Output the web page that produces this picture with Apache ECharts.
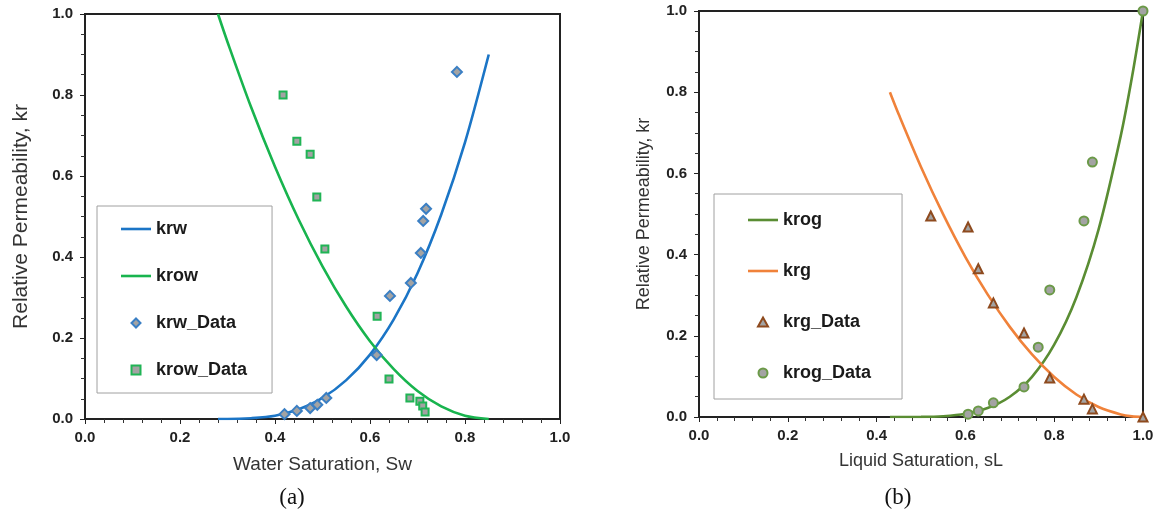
<!DOCTYPE html>
<html>
<head>
<meta charset="utf-8">
<script src="https://cdn.jsdelivr.net/npm/echarts@6/dist/echarts.min.js"></script>
<style>html,body{margin:0;padding:0;background:#fff}#c{width:1159px;height:514px}</style>
</head>
<body>
<div id="c"></div>
<script>
// ---- (a) water / oil ----
const swCurve   = [0.28, 0.30, 0.35, 0.40, 0.45, 0.50, 0.55, 0.60, 0.65, 0.70, 0.75, 0.80, 0.85];
const krwCurve  = [0.000, 0.000, 0.002, 0.008, 0.024, 0.052, 0.096, 0.159, 0.246, 0.360, 0.505, 0.683, 0.900];
const krowCurve = [1.000, 0.931, 0.769, 0.623, 0.492, 0.377, 0.277, 0.192, 0.123, 0.069, 0.031, 0.008, 0.000];
const krwDataSw = [0.420, 0.446, 0.474, 0.489, 0.508, 0.614, 0.642, 0.686, 0.707, 0.712, 0.718, 0.783];
const krwDataKr = [0.012, 0.020, 0.027, 0.035, 0.052, 0.158, 0.304, 0.336, 0.410, 0.489, 0.519, 0.857];
const krowDataSw = [0.417, 0.446, 0.474, 0.488, 0.505, 0.615, 0.640, 0.684, 0.705, 0.711, 0.716];
const krowDataKr = [0.800, 0.686, 0.654, 0.548, 0.420, 0.254, 0.099, 0.052, 0.044, 0.032, 0.017];
// ---- (b) gas / liquid ----
const sLCurve   = [0.43, 0.45, 0.50, 0.55, 0.60, 0.65, 0.70, 0.75, 0.80, 0.85, 0.90, 0.95, 0.975, 1.00];
const krogCurve = [0.000, 0.000, 0.0002, 0.002, 0.008, 0.022, 0.050, 0.099, 0.178, 0.295, 0.462, 0.693, 0.836, 1.000];
const krgCurve  = [0.800, 0.745, 0.616, 0.499, 0.394, 0.302, 0.222, 0.154, 0.0985, 0.0554, 0.0246, 0.0062, 0.0015, 0.000];
const krgDataSL = [0.522, 0.606, 0.629, 0.663, 0.732, 0.790, 0.867, 0.886, 1.000];
const krgDataKr = [0.495, 0.468, 0.365, 0.281, 0.207, 0.096, 0.044, 0.020, 0.000];
const krogDataSL = [0.606, 0.629, 0.663, 0.732, 0.764, 0.790, 0.867, 0.886, 1.000];
const krogDataKr = [0.007, 0.015, 0.035, 0.074, 0.172, 0.313, 0.483, 0.628, 1.000];
const tickLabels = ['0.0', '0.2', '0.4', '0.6', '0.8', '1.0'];
const names = { a: ['krw', 'krow', 'krw_Data', 'krow_Data'], b: ['krog', 'krg', 'krg_Data', 'krog_Data'] };
const xTitles = ['Water Saturation, Sw', 'Liquid Saturation, sL'];
const yTitle = 'Relative Permeability, kr';
const panelLabels = ['(a)', '(b)'];

const zip = (xs, ys) => xs.map((x, i) => [x, ys[i]]);
const FONT = 'Liberation Sans, Arial, sans-serif';
const fmt = v => tickLabels[Math.round(v * 5)] || '';

const ICON_LINE = 'path://M0,0H30V2.6H0Z';
const ICON_DIAMOND = 'path://M5,0L10,5L5,10L0,5Z';
const ICON_SQUARE = 'path://M0,0H10V10H0Z';
const ICON_TRI = 'path://M5,0L10,9L0,9Z';
const ICON_CIRCLE = 'circle';

function mainX(grid, name, gap, size) {
  return {
    type: 'value', gridIndex: grid, min: 0, max: 1, interval: 0.2,
    name: name, nameLocation: 'middle', nameGap: gap,
    nameTextStyle: { fontFamily: FONT, fontSize: size, color: '#333' },
    axisLine: { show: true, onZero: false, lineStyle: { color: '#222', width: 2 } },
    axisTick: { show: true, inside: false, length: 5, lineStyle: { color: '#222', width: 1 } },
    axisLabel: { formatter: fmt, fontFamily: FONT, fontWeight: 'bold', fontSize: 15, color: '#222', margin: 11 },
    splitLine: { show: false }
  };
}
function minorX(grid) {
  return {
    type: 'value', gridIndex: grid, min: 0, max: 1, interval: 0.2,
    axisLine: { show: false }, axisLabel: { show: false }, splitLine: { show: false },
    axisTick: { show: false, inside: true },
    minorTick: { show: true, splitNumber: 5, length: 4, lineStyle: { color: '#333', width: 1 } }
  };
}
function mainY(grid, gap, size) {
  return {
    type: 'value', gridIndex: grid, min: 0, max: 1, interval: 0.2,
    name: yTitle, nameLocation: 'middle', nameGap: gap, nameRotate: 90,
    nameTextStyle: { fontFamily: FONT, fontSize: size, color: '#333' },
    axisLine: { show: true, onZero: false, lineStyle: { color: '#222', width: 2 } },
    axisTick: { show: true, inside: false, length: 5, lineStyle: { color: '#222', width: 1 } },
    axisLabel: { formatter: fmt, fontFamily: FONT, fontWeight: 'bold', fontSize: 15, color: '#222', margin: 12 },
    splitLine: { show: false }
  };
}
function minorY(grid) {
  return {
    type: 'value', gridIndex: grid, min: 0, max: 1, interval: 0.2,
    axisLine: { show: false }, axisLabel: { show: false }, splitLine: { show: false },
    axisTick: { show: false, inside: true },
    minorTick: { show: true, splitNumber: 4, length: 4, lineStyle: { color: '#333', width: 1 } }
  };
}
function lineSeries(name, xi, data, color) {
  return { name, type: 'line', xAxisIndex: xi, yAxisIndex: xi, data, smooth: 0.3,
    symbol: 'none', showSymbol: false, lineStyle: { color, width: 2.6 }, itemStyle: { color }, z: 2 };
}
function scatterSeries(name, xi, data, symbol, size, border) {
  return { name, type: 'scatter', xAxisIndex: xi, yAxisIndex: xi, data, symbol, symbolSize: size,
    symbolKeepAspect: true, clip: false,
    itemStyle: { color: '#a3a3a3', borderColor: border, borderWidth: 2, opacity: 1 }, z: 3 };
}
function legend(items, icons, left, top, gap, pad) {
  return {
    data: items.map((n, i) => ({ name: n, icon: icons[i] })),
    orient: 'vertical', left, top, itemGap: gap,
    itemWidth: 30, itemHeight: 9, symbolKeepAspect: true, selectedMode: false, padding: pad,
    borderColor: '#a0a0a0', borderWidth: 1, backgroundColor: '#fff',
    textStyle: { fontFamily: FONT, fontWeight: 'bold', fontSize: 18, color: '#1a1a1a' }
  };
}

const chart = echarts.init(document.getElementById('c'), null, { renderer: 'canvas' });
chart.setOption({
  animation: false,
  backgroundColor: '#fff',
  title: [
    { text: panelLabels[0], left: 287, top: 481, textAlign: 'center', textStyle: { fontFamily: 'Liberation Serif, Times New Roman, serif', fontWeight: 'normal', fontSize: 23, color: '#111' } },
    { text: panelLabels[1], left: 893, top: 481, textAlign: 'center', textStyle: { fontFamily: 'Liberation Serif, Times New Roman, serif', fontWeight: 'normal', fontSize: 23, color: '#111' } }
  ],
  grid: [
    { left: 85, top: 14, width: 475, height: 405, show: true, borderColor: '#222', borderWidth: 2, backgroundColor: 'transparent' },
    { left: 699, top: 11, width: 444, height: 406, show: true, borderColor: '#222', borderWidth: 2, backgroundColor: 'transparent' }
  ],
  legend: [
    legend(names.a, [ICON_LINE, ICON_LINE, ICON_DIAMOND, ICON_SQUARE], 97, 206, 29, [14, 25, 14, 24]),
    legend(names.b, [ICON_LINE, ICON_LINE, ICON_TRI, ICON_CIRCLE], 714, 194, 33, [17, 31, 17, 34])
  ],
  xAxis: [mainX(0, xTitles[0], 36, 19), mainX(1, xTitles[1], 35, 18), minorX(0), minorX(1)],
  yAxis: [mainY(0, 53, 21), mainY(1, 46, 18), minorY(0), minorY(1)],
  series: [
    lineSeries(names.a[0], 0, zip(swCurve, krwCurve), '#1b75c6'),
    lineSeries(names.a[1], 0, zip(swCurve, krowCurve), '#18b44e'),
    scatterSeries(names.a[2], 0, zip(krwDataSw, krwDataKr), 'diamond', 10, '#3a7fc4'),
    scatterSeries(names.a[3], 0, zip(krowDataSw, krowDataKr), 'rect', 7, '#20b455'),
    lineSeries(names.b[0], 1, zip(sLCurve, krogCurve), '#5a8d33'),
    lineSeries(names.b[1], 1, zip(sLCurve, krgCurve), '#f0823a'),
    scatterSeries(names.b[2], 1, zip(krgDataSL, krgDataKr), 'triangle', 9, '#8e4a1e'),
    scatterSeries(names.b[3], 1, zip(krogDataSL, krogDataKr), 'circle', 9, '#6b9a48')
  ]
});
</script>
</body>
</html>
